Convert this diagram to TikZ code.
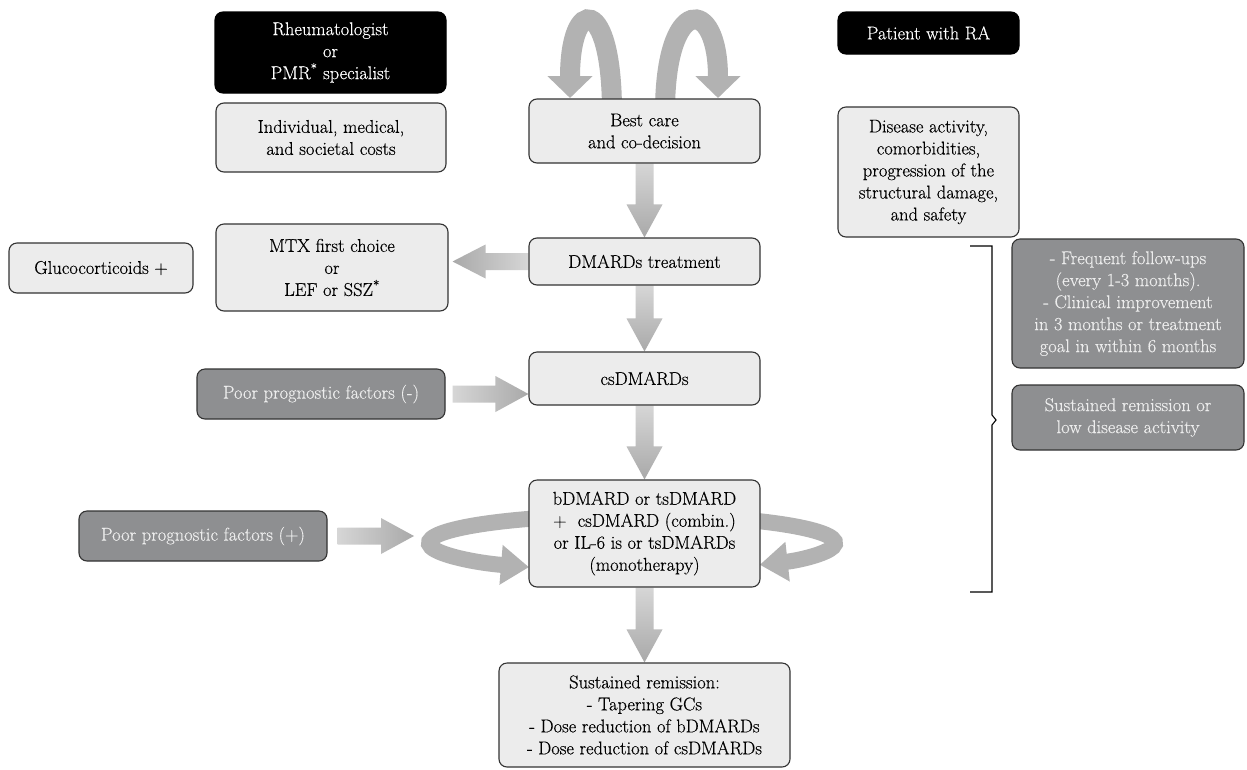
\documentclass[tikz,border=0pt]{standalone}
\usepackage{fontspec}
\setmainfont{Latin Modern Roman}[FakeBold=0.4]
\usetikzlibrary{arrows.meta,calc}
\pgfdeclarelayer{background}
\pgfsetlayers{background,main}
\definecolor{lightfill}{HTML}{ECECEC}
\definecolor{darkfill}{HTML}{8E8F91}
\definecolor{arrowlight}{HTML}{D6D6D6}
\definecolor{arrowdark}{HTML}{A9A9A9}
\definecolor{archgray}{HTML}{B2B2B2}
\definecolor{edgecol}{HTML}{333333}
\tikzset{
  basebox/.style={rounded corners=8pt, line width=1.1pt, draw=edgecol, inner sep=0pt, align=center,
    font=\fontsize{18.5}{22}\selectfont},
  lbox/.style={basebox, fill=lightfill, text=black},
  dbox/.style={basebox, fill=darkfill, text=white!93!black},
  kbox/.style={basebox, fill=black, draw=black, text=white},
  vshade/.style={top color=arrowlight, bottom color=arrowdark, draw=none},
  rshade/.style={left color=arrowlight, right color=arrowdark, draw=none},
  lshade/.style={left color=arrowdark, right color=arrowlight, draw=none},
  ringarrow/.style={draw=archgray, line width=16pt, -{Triangle[length=28pt,width=38pt]}},
  archarrow/.style={draw=archgray, line width=20pt, -{Triangle[length=22pt,width=44pt]}},
  bracket/.style={draw=black, line width=1.1pt},
}
\newcommand\mybox[7]{\node[#1, minimum width={(#5-#3)*1pt}, minimum height={(#6-#4)*1pt}] (#2) at ({(#3+#5)/2},{(#4+#6)/2}) {#7};}
% vertical block arrow from the south of #1 to the north of #2
\newcommand\vflow[2]{\path[vshade] let \p1=(#1.south), \p2=(#2.north) in
  (\x1-9pt,\y1) -- (\x1+9pt,\y1) -- (\x1+9pt,\y2+33pt) -- (\x1+18pt,\y2+33pt) -- (\x1,\y2)
  -- (\x1-18pt,\y2+33pt) -- (\x1-9pt,\y2+33pt) -- cycle;}
% horizontal block arrow pointing right, from #1 to #2
\newcommand\rflow[2]{\path[rshade] let \p1=(#1), \p2=(#2) in
  (\x1,\y1+8.5pt) -- (\x2-33pt,\y1+8.5pt) -- (\x2-33pt,\y1+18pt) -- (\x2,\y1)
  -- (\x2-33pt,\y1-18pt) -- (\x2-33pt,\y1-8.5pt) -- (\x1,\y1-8.5pt) -- cycle;}
% horizontal block arrow pointing left, from #1 to #2
\newcommand\lflow[2]{\path[lshade] let \p1=(#1), \p2=(#2) in
  (\x1,\y1+8.5pt) -- (\x2+33pt,\y1+8.5pt) -- (\x2+33pt,\y1+17pt) -- (\x2,\y1)
  -- (\x2+33pt,\y1-17pt) -- (\x2+33pt,\y1-8.5pt) -- (\x1,\y1-8.5pt) -- cycle;}
\begin{document}
\begin{tikzpicture}[x=1pt,y=-1pt]
\useasboundingbox (0,0) rectangle (1247,769);
% boxes
\mybox{kbox}{rheum}{215}{12}{446}{93}{\raisebox{-3pt}{\parbox{220pt}{\centering Rheumatologist\\or\\PMR\textsuperscript{*} specialist}}}
\mybox{kbox}{patient}{838}{12}{1019}{54}{Patient with RA}
\mybox{lbox}{indiv}{216}{103}{446}{172}{Individual, medical,\\and societal costs}
\mybox{lbox}{best}{529}{99}{760}{163}{Best care\\and co-decision}
\mybox{lbox}{disease}{838}{107}{1019}{237}{Disease activity,\\comorbidities,\\progression of the\\structural damage,\\and safety}
\mybox{lbox}{gluco}{9}{243}{193}{293}{Glucocorticoids +}
\mybox{lbox}{mtx}{216}{224}{448}{311}{MTX first choice\\or\\LEF or SSZ\textsuperscript{*}}
\mybox{lbox}{dmards}{529}{238}{760}{285}{DMARDs treatment}
\mybox{dbox}{poorminus}{197}{369}{445}{419}{Poor prognostic factors (-)}
\mybox{lbox}{cs}{529}{352}{760}{405}{csDMARDs}
\mybox{dbox}{freq}{1012}{239}{1244}{368}{- Frequent follow-ups\\(every 1-3 months).\\- Clinical improvement\\in 3 months or treatment\\goal in within 6 months}
\mybox{dbox}{sustlow}{1012}{385}{1244}{450}{Sustained remission or\\low disease activity}
\mybox{dbox}{poorplus}{79}{511}{327}{561}{Poor prognostic factors (+)}
\mybox{lbox}{bdmard}{529}{480}{760}{587}{\fontsize{18.5}{25}\selectfont bDMARD or tsDMARD\\+\ \ csDMARD (combin.)\\or IL-6 is or tsDMARDs\\(monotherapy)}
\mybox{lbox}{sust}{499}{663}{790}{767}{Sustained remission:\\- Tapering GCs\\- Dose reduction of bDMARDs\\- Dose reduction of csDMARDs}
% coordinates
\coordinate (ringc) at (632,543);
\coordinate (ringL) at (414,536);
\coordinate (a1s) at (612,112);
\coordinate (a1e) at (570,98);
\coordinate (a2s) at (665,112);
\coordinate (a2e) at (718,98);
\begin{pgfonlayer}{background}
\fill[white] (0,0) rectangle (1247,769);
% top arches
\draw[archarrow] (a1s) .. controls (612,-5) and (570,-5) .. (a1e);
\draw[archarrow] (a2s) .. controls (665,-5) and (718,-5) .. (a2e);
% vertical flow
\vflow{best}{dmards}
\vflow{dmards}{cs}
\vflow{cs}{bdmard}
\vflow{bdmard}{sust}
% horizontal
\lflow{dmards.west}{$(dmards.west -| mtx.east)+(4,0)$}
\rflow{$(poorminus.east)+(7,0)$}{poorminus.east -| cs.west}
\rflow{$(poorplus.east)+(10,0)$}{ringL}
% ring around bDMARD
\draw[ringarrow] (ringc) ++(262:203 and 28) arc[start angle=262, end angle=120.5, x radius=203, y radius=28];
\draw[ringarrow] (ringc) ++(278:203 and 28) arc[start angle=278, end angle=411, x radius=203, y radius=28];
\end{pgfonlayer}
% bracket
\draw[bracket] (970,246) -- (992,246) -- (992,415) -- (996,420) -- (992,425) -- (992,592) -- (970,592);
\end{tikzpicture}
\end{document}
